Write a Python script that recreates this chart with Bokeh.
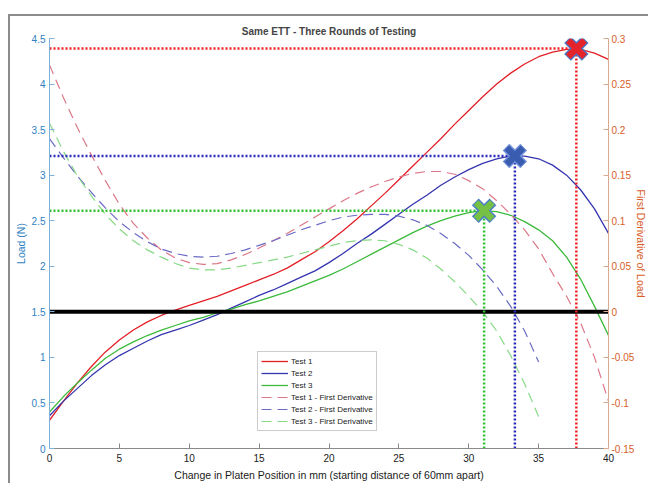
from bokeh.plotting import figure
from bokeh.models import Range1d, LinearAxis, FixedTicker, CustomJSTickFormatter
from bokeh.embed import file_html
from bokeh.resources import INLINE

# ---------------- data ----------------
position = list(range(41))          # mm, 0..40
deriv_pos = list(range(36))         # mm, 0..35 (Test 2/3 derivatives end at 35)

test1 = [0.31, 0.52, 0.72, 0.90, 1.06, 1.19, 1.30, 1.39, 1.46, 1.52, 1.57,
         1.62, 1.67, 1.73, 1.79, 1.85, 1.91, 1.98, 2.07, 2.16, 2.27,
         2.39, 2.52, 2.66, 2.80, 2.95, 3.10, 3.25, 3.40, 3.56, 3.71,
         3.86, 4.00, 4.12, 4.22, 4.30, 4.35, 4.38, 4.38, 4.34, 4.27]
test2 = [0.36, 0.52, 0.66, 0.80, 0.92, 1.02, 1.10, 1.18, 1.25, 1.30, 1.35,
         1.41, 1.47, 1.54, 1.61, 1.68, 1.74, 1.81, 1.88, 1.95, 2.04,
         2.14, 2.25, 2.35, 2.46, 2.57, 2.68, 2.78, 2.89, 2.98, 3.06,
         3.13, 3.18, 3.21, 3.21, 3.18, 3.11, 3.00, 2.84, 2.63, 2.36]
test3 = [0.40, 0.57, 0.72, 0.86, 0.99, 1.09, 1.17, 1.24, 1.30, 1.35, 1.40,
         1.44, 1.49, 1.53, 1.58, 1.62, 1.67, 1.72, 1.78, 1.84, 1.90,
         1.97, 2.05, 2.13, 2.21, 2.29, 2.37, 2.44, 2.50, 2.55, 2.59,
         2.61, 2.60, 2.56, 2.49, 2.40, 2.28, 2.10, 1.86, 1.56, 1.24]

deriv1 = [0.271, 0.235, 0.202, 0.172, 0.144, 0.118, 0.097, 0.081, 0.068, 0.059, 0.054,
          0.052, 0.053, 0.057, 0.063, 0.070, 0.078, 0.086, 0.095, 0.104, 0.113,
          0.122, 0.130, 0.137, 0.143, 0.148, 0.152, 0.154, 0.154, 0.151, 0.144,
          0.135, 0.122, 0.107, 0.090, 0.069, 0.042, 0.017, -0.012, -0.050, -0.098]
deriv2 = [0.190, 0.169, 0.149, 0.131, 0.114, 0.099, 0.087, 0.077, 0.069, 0.064, 0.061,
          0.060, 0.061, 0.064, 0.068, 0.073, 0.078, 0.084, 0.090, 0.095, 0.100,
          0.104, 0.106, 0.107, 0.107, 0.105, 0.101, 0.095, 0.086, 0.075, 0.062,
          0.046, 0.028, 0.006, -0.021, -0.055]
deriv3 = [0.207, 0.176, 0.149, 0.127, 0.107, 0.091, 0.078, 0.068, 0.060, 0.053, 0.048,
          0.046, 0.046, 0.048, 0.051, 0.054, 0.057, 0.060, 0.064, 0.068, 0.072,
          0.076, 0.078, 0.079, 0.078, 0.074, 0.068, 0.059, 0.047, 0.033, 0.017,
          0.000, -0.021, -0.048, -0.079, -0.115]

peak_x = [37.7, 33.3, 31.1]
peak_y = [4.39, 3.21, 2.61]

x_ticks = [0, 5, 10, 15, 20, 25, 30, 35, 40]
load_ticks = [0, 0.5, 1, 1.5, 2, 2.5, 3, 3.5, 4, 4.5]
deriv_ticks = [-0.15, -0.1, -0.05, 0, 0.05, 0.1, 0.15, 0.2, 0.25, 0.3]
zero_deriv = 0

# ---------------- styling ----------------
FONT = "Liberation Sans"
RED, BLUE, GREEN = "#e31f26", "#3535b0", "#3cba3c"
RED_D, BLUE_D, GREEN_D = "#dc7787", "#6a6ac6", "#86d986"
RED_DOT, BLUE_DOT, GREEN_DOT = "#f02020", "#2a2ab8", "#30c030"
LEFT_C, RIGHT_C = "#2f7fc1", "#d7602a"

p = figure(width=640, height=469, output_backend="svg", toolbar_location=None,
           x_range=Range1d(x_ticks[0], x_ticks[-1]),
           y_range=Range1d(load_ticks[0], load_ticks[-1]),
           min_border_left=39, min_border_right=30, min_border_top=22, min_border_bottom=37)
p.extra_y_ranges = {"deriv": Range1d(deriv_ticks[0], deriv_ticks[-1])}
p.styles = {"border-left": "2px solid #8c8c8c", "border-top": "2px solid #8c8c8c"}
p.margin = (14, 0, -10, 8)

p.grid.visible = False
p.outline_line_color = None
p.background_fill_color = "white"
p.border_fill_color = "white"

p.title.text = "Same ETT - Three Rounds of Testing"
p.title.align = "center"
p.title.text_font = FONT
p.title.text_font_size = "10px"
p.title.text_font_style = "bold"
p.title.standoff = 3

fmt = CustomJSTickFormatter(code="return String(parseFloat(tick.toFixed(3)));")


def style_axis(ax, ticks, label, text_color, line_color):
    ax.ticker = FixedTicker(ticks=ticks)
    ax.formatter = fmt
    ax.major_tick_in = 5
    ax.major_tick_out = 0
    ax.minor_tick_line_color = None
    ax.major_tick_line_color = line_color
    ax.axis_line_color = line_color
    ax.major_label_text_color = text_color
    ax.major_label_text_font = FONT
    ax.major_label_text_font_size = "10px"
    ax.major_label_standoff = 4
    ax.axis_label = label
    ax.axis_label_text_color = text_color
    ax.axis_label_text_font = FONT
    ax.axis_label_text_font_size = "10.5px"
    ax.axis_label_text_font_style = "normal"


style_axis(p.xaxis[0], x_ticks, "Change in Platen Position in mm (starting distance of 60mm apart)",
           "#1a1a1a", "#8a8a8a")
p.xaxis[0].major_label_standoff = 5
p.xaxis[0].axis_label_standoff = 4
style_axis(p.yaxis[0], load_ticks, "Load (N)", LEFT_C, "#7fb0d8")
p.yaxis[0].axis_label_standoff = 2

right_axis = LinearAxis(y_range_name="deriv")
style_axis(right_axis, deriv_ticks, "First Derivative of Load", RIGHT_C, "#d9aa90")
right_axis.major_label_standoff = 3
right_axis.axis_label_standoff = -2
p.add_layout(right_axis, "right")

# ---------------- curves ----------------
p.line(position, test1, line_color=RED, line_width=1.3, legend_label="Test 1")
p.line(position, test2, line_color=BLUE, line_width=1.3, legend_label="Test 2")
p.line(position, test3, line_color=GREEN, line_width=1.3, legend_label="Test 3")
p.line(position, deriv1, y_range_name="deriv", line_color=RED_D, line_width=1.2,
       line_dash="10 6", legend_label="Test 1 - First Derivative")
p.line(deriv_pos, deriv2, y_range_name="deriv", line_color=BLUE_D, line_width=1.2,
       line_dash="10 6", legend_label="Test 2 - First Derivative")
p.line(deriv_pos, deriv3, y_range_name="deriv", line_color=GREEN_D, line_width=1.2,
       line_dash="10 6", legend_label="Test 3 - First Derivative")

# zero line of the derivative
p.segment(x0=x_ticks[0], y0=zero_deriv, x1=x_ticks[-1], y1=zero_deriv,
          y_range_name="deriv", line_color="black", line_width=4)

# dotted guides to the peaks
dot_colors = [RED_DOT, BLUE_DOT, GREEN_DOT]
p.segment(x0=[x_ticks[0]] * 3, y0=peak_y, x1=peak_x, y1=peak_y,
          line_color=dot_colors, line_width=2.5, line_dash="2 2")
p.segment(x0=peak_x, y0=[load_ticks[0]] * 3, x1=peak_x, y1=peak_y,
          line_color=dot_colors, line_width=2.5, line_dash="2 2")

# peak markers (outlined X)
p.scatter(peak_x, peak_y, marker="x", size=25,
          line_color=["#4a76c4", "#6f90d6", "#4a7fc6"], line_width=9.5)
p.scatter(peak_x, peak_y, marker="x", size=23,
          line_color=["#e5232b", "#3a5cb0", "#76c043"], line_width=6.5)

# ---------------- legend ----------------
lg = p.legend[0]
lg.location = (208, 17)
lg.border_line_color = "#9a9a9a"
lg.border_line_width = 1
lg.background_fill_color = "white"
lg.background_fill_alpha = 1
lg.label_text_font = FONT
lg.label_text_font_size = "8px"
lg.label_text_color = "#1a1a1a"
lg.glyph_width = 27
lg.glyph_height = 12
lg.label_height = 12
lg.label_standoff = 3
lg.spacing = 0
lg.padding = 3
lg.margin = 0

open("out.html", "w").write(file_html(p, INLINE))
